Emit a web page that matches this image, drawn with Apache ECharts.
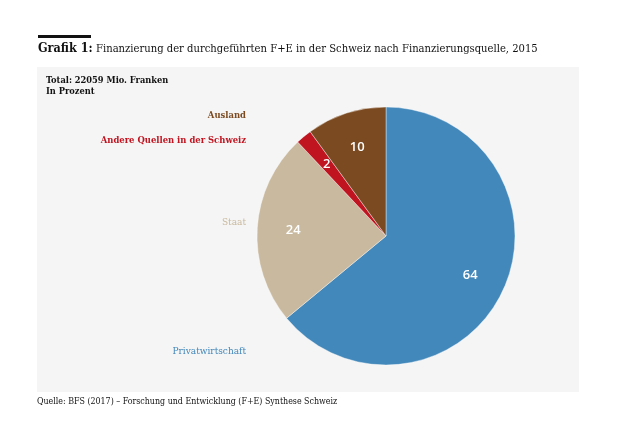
<!DOCTYPE html>
<html>
<head>
<meta charset="utf-8">
<script src="https://cdn.jsdelivr.net/npm/echarts@6/dist/echarts.min.js"></script>
<style>
html, body { margin:0; padding:0; background:#fff; }
#chartDiv { width:620px; height:441px; }
</style>
</head>
<body>
<div id="chartDiv"></div>
<script>
// Finanzierungsquellen, in Prozent (Reihenfolge im Uhrzeigersinn ab 12 Uhr)
var categories = ['Privatwirtschaft', 'Staat', 'Andere Quellen in der Schweiz', 'Ausland'];
var values = [64, 24, 2, 10];
var colors = ['#4388ba', '#c9b99e', '#c01521', '#7b4a20'];

var serif = '"DejaVu Serif Condensed", "DejaVu Serif", serif';
function f(weight, size) {
	return weight + ' ' + size + 'px ' + serif;
}
var chart = echarts.init(document.getElementById('chartDiv'));

var pieData = [];
for (var i = 0; i < categories.length; i++) {
	pieData.push({ name: categories[i], value: values[i], itemStyle: { color: colors[i] } });
}

// Namen links neben dem Kreis, rechtsbündig
var nameY = { 'Privatwirtschaft': 351, 'Staat': 222, 'Andere Quellen in der Schweiz': 141, 'Ausland': 116 };
var nameTexts = categories.map(function (c, i) {
	var bold = (i === 2 || i === 3);
	return {
		type: 'text', x: 246, y: nameY[c],
		style: { text: c, fill: colors[i], font: bold ? f('bold', 9.4) : f('normal', 10), align: 'right', verticalAlign: 'middle' }
	};
});

var option = {
	animation: false,
	graphic: [
		{ type: 'rect', z: -10, shape: { x: 37, y: 67, width: 542, height: 325 }, style: { fill: '#f5f5f5' } },
		{ type: 'rect', shape: { x: 38, y: 35, width: 53, height: 3 }, style: { fill: '#111' } },
		{
			type: 'text', x: 38, y: 49,
			style: {
				text: '{b|Grafik 1:} {n|Finanzierung der durchgeführten F+E in der Schweiz nach Finanzierungsquelle, 2015}',
				verticalAlign: 'middle',
				rich: {
					b: { font: f('bold', 12.5), fill: '#111' },
					n: { font: f('normal', 11.15), fill: '#111' }
				}
			}
		},
		{ type: 'text', x: 46, y: 81, style: { text: 'Total: 22059 Mio. Franken', font: f('bold', 9.2), fill: '#111', verticalAlign: 'middle' } },
		{ type: 'text', x: 46, y: 92, style: { text: 'In Prozent', font: f('bold', 9.2), fill: '#111', verticalAlign: 'middle' } },
		{ type: 'text', x: 37, y: 402, style: { text: 'Quelle: BFS (2017) – Forschung und Entwicklung (F+E) Synthese Schweiz', font: f('normal', 8.8), fill: '#111', verticalAlign: 'middle' } }
	].concat(nameTexts),
	series: [
		{
			type: 'pie',
			center: [386, 236],
			radius: [0, 129],
			startAngle: 90,
			clockwise: true,
			silent: true,
			label: { show: false },
			labelLine: { show: false },
			itemStyle: { borderColor: '#ffffff', borderWidth: 0.4 },
			data: pieData
		},
		{
			// unsichtbarer Ring nur für die Wertebeschriftung
			type: 'pie',
			center: [386, 236],
			radius: [0, 180],
			startAngle: 90,
			clockwise: true,
			silent: true,
			itemStyle: { color: 'rgba(0,0,0,0)' },
			label: {
				show: true,
				position: 'inside',
				formatter: '{c}',
				color: '#ffffff',
				fontFamily: '"Open Sans", sans-serif',
				fontWeight: 600,
				fontSize: 13
			},
			labelLine: { show: false },
			data: values.map(function (v, i) { return { name: categories[i], value: v }; })
		}
	]
};
chart.setOption(option);
</script>
</body>
</html>
